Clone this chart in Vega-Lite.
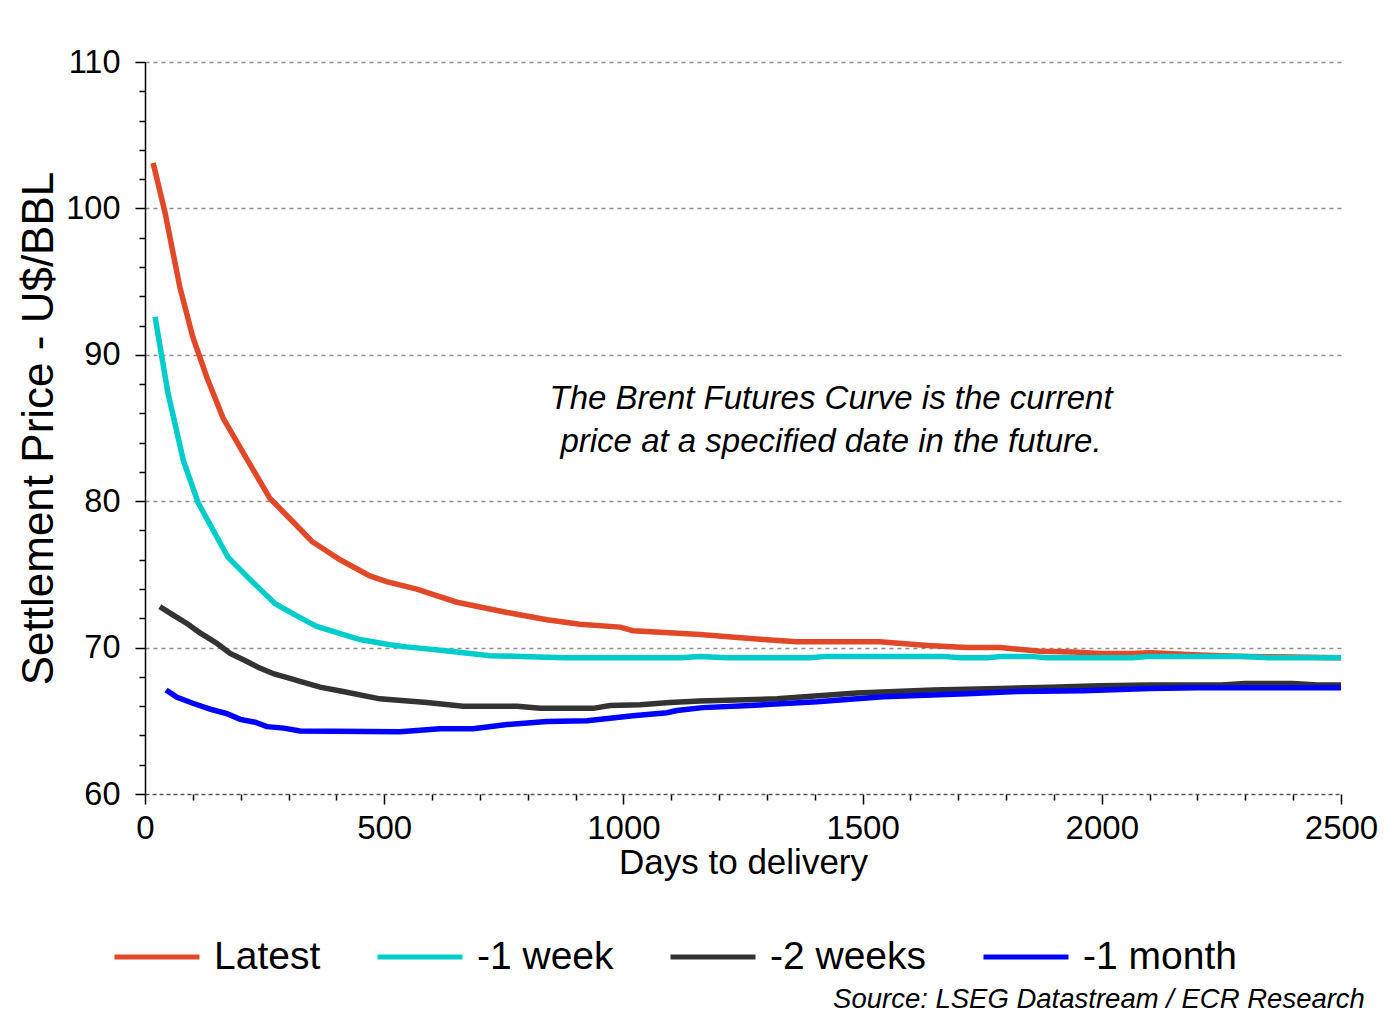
{
  "$schema": "https://vega.github.io/schema/vega-lite/v6.json",
  "width": 1196,
  "height": 732,
  "autosize": {"type": "none"},
  "padding": {"left": 145, "top": 62, "right": 53, "bottom": 228},
  "background": "white",
  "config": {"font": "Liberation Sans", "view": {"stroke": null}},
  "datasets": {
    "curves": [
      {"s":"Latest","d":17,"p":103.1},{"s":"Latest","d":42,"p":99.7},{"s":"Latest","d":73,"p":94.6},{"s":"Latest","d":100,"p":91.2},{"s":"Latest","d":130,"p":88.4},{"s":"Latest","d":163,"p":85.7},{"s":"Latest","d":209,"p":83.1},{"s":"Latest","d":261,"p":80.2},{"s":"Latest","d":324,"p":78.1},{"s":"Latest","d":349,"p":77.25},{"s":"Latest","d":408,"p":76.0},{"s":"Latest","d":470,"p":74.9},{"s":"Latest","d":505,"p":74.5},{"s":"Latest","d":568,"p":74.0},{"s":"Latest","d":652,"p":73.1},{"s":"Latest","d":757,"p":72.4},{"s":"Latest","d":840,"p":71.9},{"s":"Latest","d":909,"p":71.6},{"s":"Latest","d":993,"p":71.4},{"s":"Latest","d":1020,"p":71.15},{"s":"Latest","d":1077,"p":71.05},{"s":"Latest","d":1160,"p":70.9},{"s":"Latest","d":1292,"p":70.55},{"s":"Latest","d":1363,"p":70.4},{"s":"Latest","d":1536,"p":70.4},{"s":"Latest","d":1635,"p":70.15},{"s":"Latest","d":1718,"p":70.0},{"s":"Latest","d":1787,"p":70.0},{"s":"Latest","d":1871,"p":69.75},{"s":"Latest","d":1940,"p":69.7},{"s":"Latest","d":1996,"p":69.6},{"s":"Latest","d":2065,"p":69.6},{"s":"Latest","d":2101,"p":69.65},{"s":"Latest","d":2205,"p":69.5},{"s":"Latest","d":2300,"p":69.4},{"s":"Latest","d":2400,"p":69.35},{"s":"Latest","d":2500,"p":69.3},
      {"s":"-1 week","d":21,"p":92.6},{"s":"-1 week","d":48,"p":87.4},{"s":"-1 week","d":80,"p":82.8},{"s":"-1 week","d":111,"p":79.9},{"s":"-1 week","d":173,"p":76.2},{"s":"-1 week","d":215,"p":74.8},{"s":"-1 week","d":272,"p":73.0},{"s":"-1 week","d":324,"p":72.05},{"s":"-1 week","d":359,"p":71.45},{"s":"-1 week","d":449,"p":70.55},{"s":"-1 week","d":512,"p":70.2},{"s":"-1 week","d":547,"p":70.05},{"s":"-1 week","d":638,"p":69.75},{"s":"-1 week","d":721,"p":69.45},{"s":"-1 week","d":784,"p":69.4},{"s":"-1 week","d":882,"p":69.3},{"s":"-1 week","d":1118,"p":69.3},{"s":"-1 week","d":1160,"p":69.4},{"s":"-1 week","d":1217,"p":69.3},{"s":"-1 week","d":1390,"p":69.3},{"s":"-1 week","d":1426,"p":69.4},{"s":"-1 week","d":1668,"p":69.4},{"s":"-1 week","d":1704,"p":69.3},{"s":"-1 week","d":1760,"p":69.3},{"s":"-1 week","d":1794,"p":69.4},{"s":"-1 week","d":1850,"p":69.4},{"s":"-1 week","d":1885,"p":69.3},{"s":"-1 week","d":2065,"p":69.3},{"s":"-1 week","d":2101,"p":69.4},{"s":"-1 week","d":2300,"p":69.4},{"s":"-1 week","d":2350,"p":69.3},{"s":"-1 week","d":2500,"p":69.3},
      {"s":"-2 weeks","d":31,"p":72.8},{"s":"-2 weeks","d":60,"p":72.2},{"s":"-2 weeks","d":90,"p":71.6},{"s":"-2 weeks","d":115,"p":71.0},{"s":"-2 weeks","d":150,"p":70.3},{"s":"-2 weeks","d":178,"p":69.6},{"s":"-2 weeks","d":210,"p":69.1},{"s":"-2 weeks","d":240,"p":68.6},{"s":"-2 weeks","d":270,"p":68.2},{"s":"-2 weeks","d":303,"p":67.9},{"s":"-2 weeks","d":324,"p":67.7},{"s":"-2 weeks","d":366,"p":67.3},{"s":"-2 weeks","d":414,"p":67.0},{"s":"-2 weeks","d":491,"p":66.5},{"s":"-2 weeks","d":589,"p":66.25},{"s":"-2 weeks","d":665,"p":66.0},{"s":"-2 weeks","d":778,"p":66.0},{"s":"-2 weeks","d":826,"p":65.85},{"s":"-2 weeks","d":937,"p":65.85},{"s":"-2 weeks","d":972,"p":66.05},{"s":"-2 weeks","d":1035,"p":66.1},{"s":"-2 weeks","d":1097,"p":66.25},{"s":"-2 weeks","d":1160,"p":66.35},{"s":"-2 weeks","d":1321,"p":66.5},{"s":"-2 weeks","d":1488,"p":66.9},{"s":"-2 weeks","d":1647,"p":67.1},{"s":"-2 weeks","d":1787,"p":67.2},{"s":"-2 weeks","d":1892,"p":67.3},{"s":"-2 weeks","d":1996,"p":67.4},{"s":"-2 weeks","d":2101,"p":67.45},{"s":"-2 weeks","d":2250,"p":67.45},{"s":"-2 weeks","d":2300,"p":67.55},{"s":"-2 weeks","d":2400,"p":67.55},{"s":"-2 weeks","d":2450,"p":67.45},{"s":"-2 weeks","d":2500,"p":67.45},
      {"s":"-1 month","d":44,"p":67.1},{"s":"-1 month","d":67,"p":66.6},{"s":"-1 month","d":100,"p":66.2},{"s":"-1 month","d":136,"p":65.8},{"s":"-1 month","d":170,"p":65.5},{"s":"-1 month","d":199,"p":65.1},{"s":"-1 month","d":230,"p":64.9},{"s":"-1 month","d":255,"p":64.6},{"s":"-1 month","d":290,"p":64.5},{"s":"-1 month","d":324,"p":64.3},{"s":"-1 month","d":533,"p":64.25},{"s":"-1 month","d":617,"p":64.45},{"s":"-1 month","d":686,"p":64.45},{"s":"-1 month","d":757,"p":64.75},{"s":"-1 month","d":840,"p":64.95},{"s":"-1 month","d":924,"p":65.0},{"s":"-1 month","d":1020,"p":65.35},{"s":"-1 month","d":1091,"p":65.55},{"s":"-1 month","d":1112,"p":65.7},{"s":"-1 month","d":1166,"p":65.9},{"s":"-1 month","d":1265,"p":66.05},{"s":"-1 month","d":1405,"p":66.3},{"s":"-1 month","d":1543,"p":66.65},{"s":"-1 month","d":1718,"p":66.85},{"s":"-1 month","d":1823,"p":67.0},{"s":"-1 month","d":1961,"p":67.05},{"s":"-1 month","d":2101,"p":67.2},{"s":"-1 month","d":2200,"p":67.25},{"s":"-1 month","d":2500,"p":67.25}
    ],
    "notes": [{"note": "The Brent Futures Curve is the current\n price at a specified date in the future."}],
    "sources": [{"src": "Source: LSEG Datastream / ECR Research"}]
  },
  "layer": [
    {
      "data": {"name": "curves"},
      "mark": {"type": "line", "strokeWidth": 5.5, "clip": false},
      "encoding": {
        "x": {
          "field": "d", "type": "quantitative",
          "scale": {"domain": [0, 2500], "nice": false, "zero": false},
          "axis": {
            "values": [0,100,200,300,400,500,600,700,800,900,1000,1100,1200,1300,1400,1500,1600,1700,1800,1900,2000,2100,2200,2300,2400,2500],
            "tickCount": 100, "format": "d",
            "labelExpr": "datum.value % 500 === 0 ? datum.label : ''",
            "labelFontSize": 33, "labelColor": "black", "labelPadding": 8, "labelFlush": false, "labelOverlap": false,
            "tickColor": "black", "tickWidth": 1.5,
            "tickSize": {"condition": {"test": "datum.value % 500 === 0", "value": 10}, "value": 6},
            "domain": true, "domainColor": "#555", "domainDash": [4, 3], "domainWidth": 1.5,
            "grid": false,
            "title": "Days to delivery", "titleFontSize": 35, "titleFontWeight": "normal", "titleColor": "black", "titlePadding": 0
          }
        },
        "y": {
          "field": "p", "type": "quantitative",
          "scale": {"domain": [60, 110], "nice": false, "zero": false},
          "axis": {
            "values": [60,62,64,66,68,70,72,74,76,78,80,82,84,86,88,90,92,94,96,98,100,102,104,106,108,110],
            "tickCount": 100, "format": "d",
            "labelExpr": "datum.value % 10 === 0 ? datum.label : ''",
            "labelFontSize": 32.5, "labelColor": "black", "labelPadding": 15, "labelOverlap": false, "labelFlush": false,
            "tickColor": "black", "tickWidth": 1.5,
            "tickSize": {"condition": {"test": "datum.value % 10 === 0", "value": 10}, "value": 6},
            "domainColor": "black", "domainWidth": 1.5,
            "grid": true, "gridColor": "#8c8c8c", "gridDash": [4, 4], "gridWidth": 1.5,
            "gridOpacity": {"condition": {"test": "datum.value % 10 === 0 && datum.value > 60", "value": 1}, "value": 0},
            "title": "Settlement Price - U$/BBL", "titleFontSize": 44, "titleFontWeight": "normal", "titleColor": "black", "titlePadding": 4
          }
        },
        "color": {
          "field": "s", "type": "nominal",
          "scale": {"domain": ["Latest", "-1 week", "-2 weeks", "-1 month"], "range": ["#E04828", "#00CCCC", "#333333", "#0000FF"]},
          "legend": {
            "orient": "none", "legendX": -33, "legendY": 850, "direction": "horizontal", "title": null,
            "symbolType": "stroke", "symbolSize": 7225, "symbolStrokeWidth": 5,
            "labelFontSize": 39, "labelColor": "black", "labelOffset": 12, "columnPadding": 46, "labelLimit": 0
          }
        },
        "order": {"field": "d", "type": "quantitative"}
      }
    },
    {
      "data": {"name": "notes"},
      "mark": {"type": "text", "fontStyle": "italic", "fontSize": 33, "align": "center", "baseline": "middle", "lineBreak": "\n", "lineHeight": 43, "color": "black"},
      "encoding": {
        "x": {"datum": 1434, "type": "quantitative"},
        "y": {"datum": 87.0, "type": "quantitative"},
        "text": {"field": "note"}
      }
    },
    {
      "data": {"name": "sources"},
      "mark": {"type": "text", "fontStyle": "italic", "fontSize": 27.5, "align": "right", "baseline": "middle", "color": "black", "clip": false},
      "encoding": {
        "x": {"datum": 2550, "type": "quantitative"},
        "y": {"datum": 45.9, "type": "quantitative"},
        "text": {"field": "src"}
      }
    }
  ]
}
